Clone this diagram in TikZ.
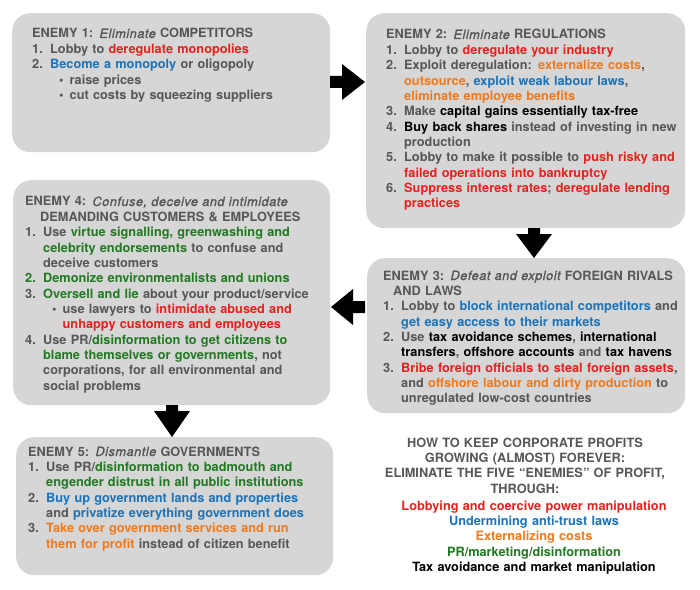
\documentclass[tikz,border=0pt]{standalone}
\usepackage{fontspec}
\setmainfont{TeX Gyre Heros}
\newfontfamily\meditfont{texgyreheros-italic.otf}[FakeBold=1.4, LetterSpace=4]
\definecolor{txtgray}{HTML}{575757}
\definecolor{boxgray}{HTML}{D6D6D6}
\definecolor{cred}{HTML}{E5231E}
\definecolor{cblue}{HTML}{1B73B9}
\definecolor{corange}{HTML}{F07A1C}
\definecolor{cgreen}{HTML}{217A21}
\definecolor{cblack}{HTML}{000000}
\newcommand{\cred}[1]{\textcolor{cred}{#1}}
\newcommand{\cblue}[1]{\textcolor{cblue}{#1}}
\newcommand{\corange}[1]{\textcolor{corange}{#1}}
\newcommand{\cgreen}[1]{\textcolor{cgreen}{#1}}
\newcommand{\cblack}[1]{\textcolor{cblack}{#1}}
\newcommand{\itm}[1]{\makebox[18bp][l]{#1}}
\newcommand{\cnt}{\hspace*{18bp}}
\newcommand{\bul}{\hspace*{27bp}\makebox[10.5bp][l]{\textbullet}}
\newcommand{\bcnt}{\hspace*{37.5bp}}
\newcommand{\emi}[1]{{\meditfont #1}}
\tikzset{
  box/.style={fill=boxgray, rounded corners=18bp, inner sep=0pt, anchor=north west},
  boxtext/.style={anchor=base west, inner sep=0pt, text width=330bp, align=left,
    text=txtgray, font=\fontsize{12.8}{15.4}\selectfont\bfseries},
  blockarrow/.style={fill=black},
}
\begin{document}
\begin{tikzpicture}[x=1bp, y=-1bp]
\useasboundingbox (0,0) rectangle (700,590);
% boxes
\node[box, minimum width=318bp, minimum height=139bp] (b1) at (12,13) {};
\node[box, minimum width=319bp, minimum height=215bp] (b2) at (366,13) {};
\node[box, minimum width=318bp, minimum height=155bp] (b3) at (367,258) {};
\node[box, minimum width=317bp, minimum height=225bp] (b4) at (13,180) {};
\node[box, minimum width=317bp, minimum height=138bp] (b5) at (16,437) {};
% arrows
\fill[blockarrow] (330,76) -- (342,76) -- (342,64) -- (365,82) -- (342,100) -- (342,88) -- (330,88) -- cycle;
\fill[blockarrow] (528,228) -- (540,228) -- (540,234) -- (552,234) -- (534,258) -- (516,234) -- (528,234) -- cycle;
\fill[blockarrow] (365,301) -- (353,301) -- (353,289) -- (331,307) -- (353,325) -- (353,313) -- (365,313) -- cycle;
\fill[blockarrow] (166,405) -- (178,405) -- (178,411) -- (190,411) -- (172,437) -- (154,411) -- (166,411) -- cycle;
% texts
\node[boxtext] (t1) at (32,38) {%
ENEMY 1: \emi{Eliminate} COMPETITORS\\
\itm{1.}Lobby to \cred{deregulate monopolies}\\
\itm{2.}\cblue{Become a monopoly} or oligopoly\\
\bul raise prices\\
\bul cut costs by squeezing suppliers};
\node[boxtext] (t2) at (386,39) {%
ENEMY 2: \emi{Eliminate} REGULATIONS\\
\itm{1.}Lobby to \cred{deregulate your industry}\\
\itm{2.}Exploit deregulation: \corange{externalize costs},\\
\cnt\corange{outsource}, \cblue{exploit weak labour laws},\\
\cnt\corange{eliminate employee benefits}\\
\itm{3.}Make \cblack{capital gains essentially tax-free}\\
\itm{4.}\cblack{Buy back shares} instead of investing in new\\
\cnt production\\
\itm{5.}Lobby to make it possible to \cred{push risky and}\\
\cnt\cred{failed operations into bankruptcy}\\
\itm{6.}\cred{Suppress interest rates}; \cred{deregulate lending}\\
\cnt\cred{practices}};
\node[boxtext] (t4) at (25,206) {%
ENEMY 4: \emi{Confuse, deceive and intimidate}\\
\hspace*{15bp}DEMANDING CUSTOMERS \& EMPLOYEES\\
\itm{1.}Use \cgreen{virtue signalling, greenwashing and}\\
\cnt\cgreen{celebrity endorsements} to confuse and\\
\cnt deceive customers\\
\cgreen{\itm{2.}Demonize environmentalists and unions}\\
\itm{3.}\cgreen{Oversell and lie} about your product/service\\
\bul use lawyers to \cred{intimidate abused and}\\
\bcnt\cred{unhappy customers and employees}\\
\itm{4.}Use PR/\cgreen{disinformation to get citizens to}\\
\cnt\cgreen{blame themselves or governments}, not\\
\cnt corporations, for all environmental and\\
\cnt social problems};
\node[boxtext] (t3) at (383,280) {%
ENEMY 3: \emi{Defeat and exploit} FOREIGN RIVALS\\
\hspace*{10bp}AND LAWS\\
\itm{1.}Lobby to \cblue{block international competitors} and\\
\cnt\cblue{get easy access to their markets}\\
\itm{2.}Use \cblack{tax avoidance schemes}, \cblack{international}\\
\cnt\cblack{transfers}, \cblack{offshore accounts} and \cblack{tax havens}\\
\itm{3.}\cred{Bribe foreign officials to steal foreign assets},\\
\cnt and \corange{offshore labour and dirty production} to\\
\cnt unregulated low-cost countries};
\node[boxtext] (t5) at (28,456) {%
ENEMY 5: \emi{Dismantle} GOVERNMENTS\\
\itm{1.}Use PR/\cgreen{disinformation to badmouth and}\\
\cnt\cgreen{engender distrust in all public institutions}\\
\itm{2.}\cblue{Buy up government lands and properties}\\
\cnt and \cblue{privatize everything government does}\\
\itm{3.}\corange{Take over government services and run}\\
\cnt\corange{them for profit} instead of citizen benefit};
% summary
\node[boxtext, anchor=base, align=center] (title) at (525,447) {%
HOW TO KEEP CORPORATE PROFITS\\
GROWING (ALMOST) FOREVER:\\
ELIMINATE THE FIVE “ENEMIES” OF PROFIT,\\
THROUGH:};
\node[boxtext, anchor=base, align=center] (means) at (534,510) {%
\cred{Lobbying and coercive power manipulation}\\
\cblue{Undermining anti-trust laws}\\
\corange{Externalizing costs}\\
\cgreen{PR/marketing/disinformation}\\
\cblack{Tax avoidance and market manipulation}};
\end{tikzpicture}
\end{document}
